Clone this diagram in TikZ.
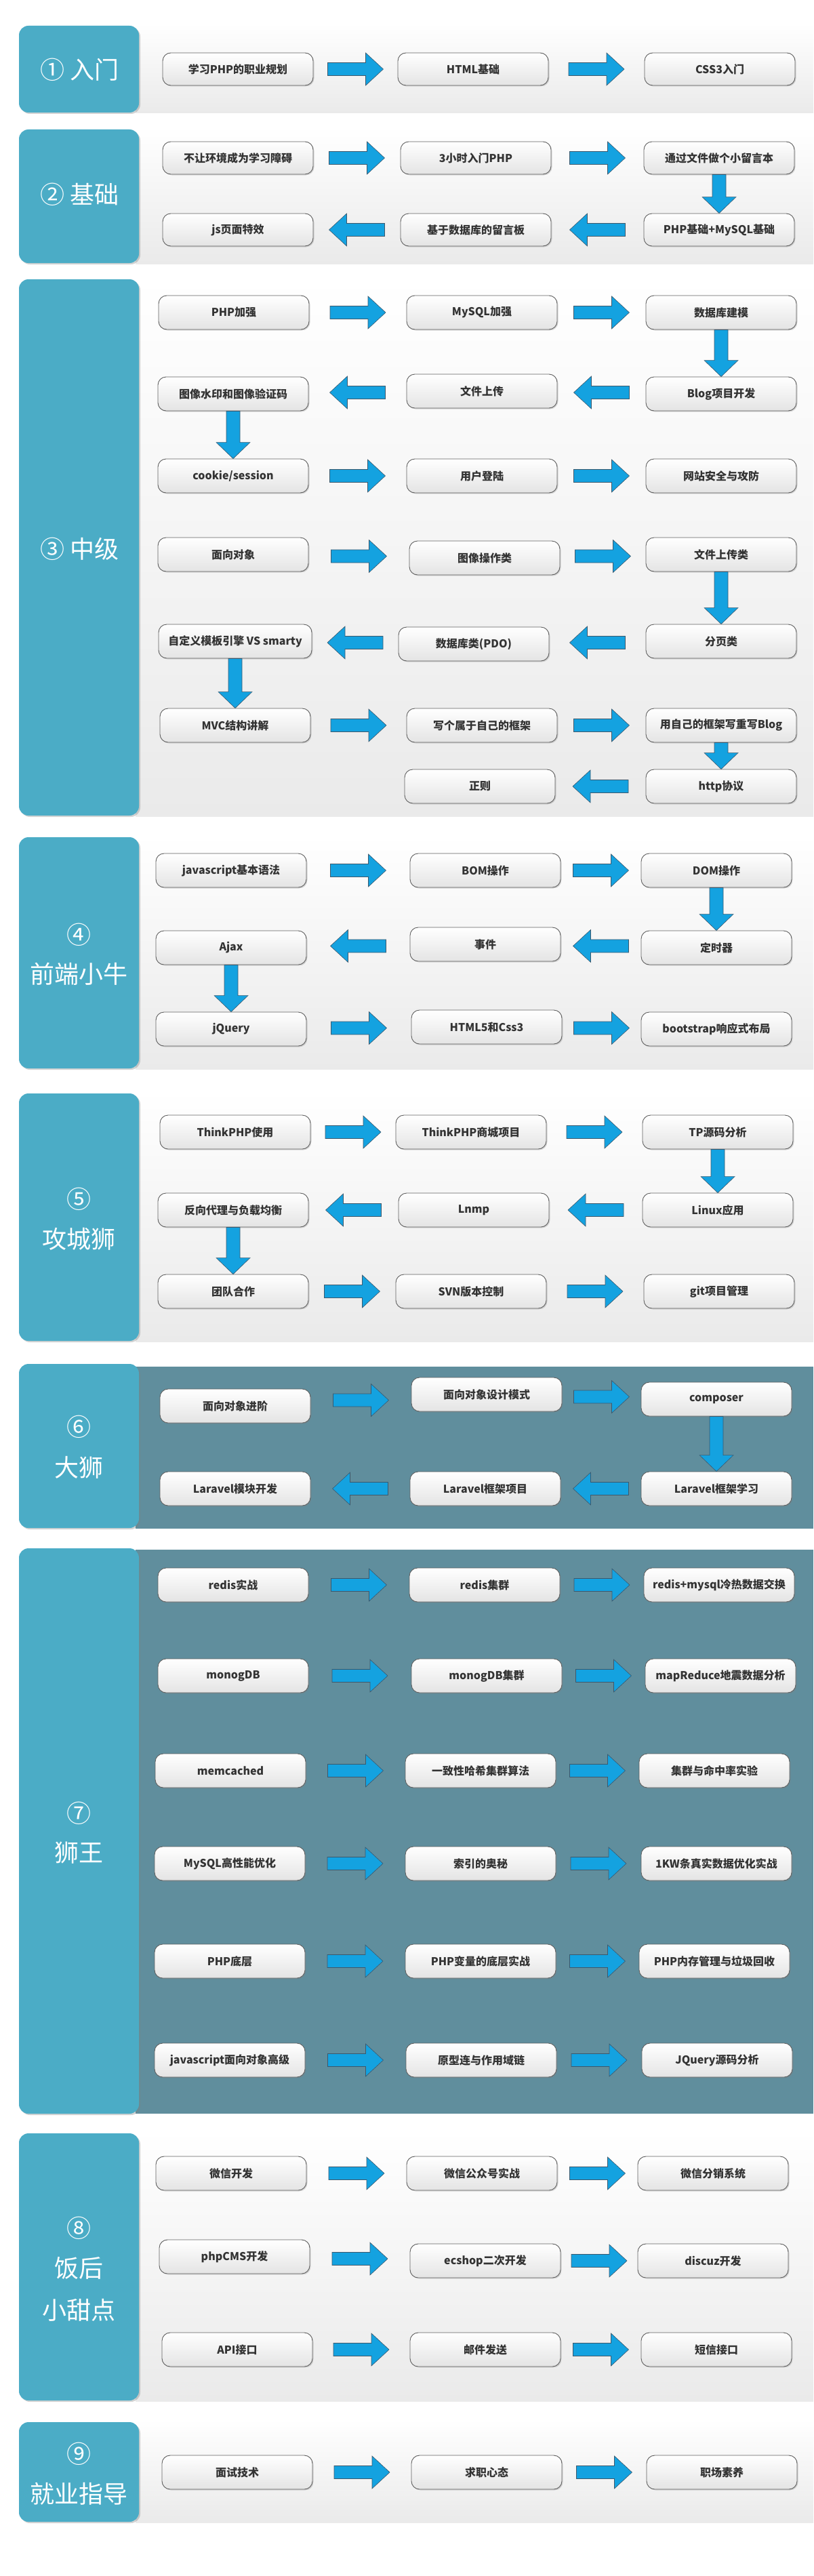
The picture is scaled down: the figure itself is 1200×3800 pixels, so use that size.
\documentclass[tikz,border=0pt]{standalone}
\usepackage{fontspec}
\setmainfont{Noto Sans CJK SC}
\usetikzlibrary{shadows,calc}
\definecolor{panelblue}{RGB}{75,172,198}
\definecolor{darkband}{RGB}{96,142,157}
\definecolor{bandgray}{RGB}{234,234,234}
\definecolor{arrowblue}{RGB}{20,162,224}
\definecolor{arrowedge}{RGB}{60,88,108}
\definecolor{boxedge}{RGB}{95,95,95}
\definecolor{boxtext}{RGB}{51,51,51}
\definecolor{boxbottom}{RGB}{228,228,228}
\tikzset{
  stepbox/.style={draw=boxedge, line width=0.9pt, rounded corners=12pt, top color=white, bottom color=boxbottom,
    minimum width=222pt, minimum height=50pt, inner sep=0pt, text=boxtext,
    font=\bfseries\fontsize{16}{18}\selectfont,
    drop shadow={opacity=0.3, shadow xshift=1.5pt, shadow yshift=-1.5pt}},
  smallbox/.style={stepbox, minimum height=48pt},
  blockarr/.style={fill=arrowblue, draw=arrowedge, line width=0.6pt, line join=miter},
  paneltitle/.style={text=white, font=\fontsize{36}{40}\selectfont, inner sep=0pt},
  bandfill/.style={top color=white, bottom color=bandgray},
  bluepanel/.style={fill=panelblue, rounded corners=14pt, drop shadow={opacity=0.35, shadow xshift=2pt, shadow yshift=-2pt}}
}
% block arrow pointing right, centred between two nodes
\newcommand\rightblock[2]{\filldraw[blockarr] let \p1=($(#1.east)!0.5!(#2.west)$) in
  (\x1-41pt,\y1+9.5pt) -- (\x1+15pt,\y1+9.5pt) -- (\x1+15pt,\y1+24pt) -- (\x1+41pt,\y1)
  -- (\x1+15pt,\y1-24pt) -- (\x1+15pt,\y1-9.5pt) -- (\x1-41pt,\y1-9.5pt) -- cycle;}
% block arrow pointing left
\newcommand\leftblock[2]{\filldraw[blockarr] let \p1=($(#1.west)!0.5!(#2.east)$) in
  (\x1+41pt,\y1+9.5pt) -- (\x1-15pt,\y1+9.5pt) -- (\x1-15pt,\y1+24pt) -- (\x1-41pt,\y1)
  -- (\x1-15pt,\y1-24pt) -- (\x1-15pt,\y1-9.5pt) -- (\x1+41pt,\y1-9.5pt) -- cycle;}
% block arrow pointing down, from one node to the next
\newcommand\downblock[2]{\filldraw[blockarr] let \p1=(#1.south), \p2=(#1.south |- #2.north) in
  (\x1-10pt,\y1) -- (\x1-10pt,\y2+24pt) -- (\x1-25pt,\y2+24pt) -- (\x1,\y2)
  -- (\x1+25pt,\y2+24pt) -- (\x1+10pt,\y2+24pt) -- (\x1+10pt,\y1) -- cycle;}
\begin{document}
\begin{tikzpicture}[x=1pt,y=-1pt]
\useasboundingbox (0,0) rectangle (1200,3800);
\fill[white] (0,0) rectangle (1200,3800);
% bands
\foreach \t/\b in {34/167, 187/389, 408/1204, 1231/1577, 1609/1979, 3143/3542, 3569/3721}{
  \fill[bandfill] (200,\t) rectangle (1200,\b);
}
\fill[darkband] (200,2016) rectangle (1200,2255);
\fill[darkband] (200,2286) rectangle (1200,3118);
% blue panels
\foreach \t/\b in {38/166, 191/388, 412/1203, 1235/1576, 1613/1978, 2012/2254, 2284/3118, 3147/3541, 3573/3720}{
  \path[bluepanel] (28,\t) rectangle (205,\b);
}
% titles
\node[paneltitle] (t1) at (118,103) {① 入门};
\node[paneltitle] (t2) at (118,287) {② 基础};
\node[paneltitle] (t3) at (118,810) {③ 中级};
\node[paneltitle] (t4a) at (116,1379) {④};
\node[paneltitle] (t4b) at (116,1437) {前端小牛};
\node[paneltitle] (t5a) at (116,1769) {⑤};
\node[paneltitle] (t5b) at (116,1828) {攻城狮};
\node[paneltitle] (t6a) at (116,2105) {⑥};
\node[paneltitle] (t6b) at (116,2165) {大狮};
\node[paneltitle] (t7a) at (116,2675) {⑦};
\node[paneltitle] (t7b) at (116,2733) {狮王};
\node[paneltitle] (t8a) at (116,3287) {⑧};
\node[paneltitle] (t8b) at (116,3346) {饭后};
\node[paneltitle] (t8c) at (116,3408) {小甜点};
\node[paneltitle] (t9a) at (116,3620) {⑨};
\node[paneltitle] (t9b) at (116,3679) {就业指导};
% panel 1
\node[smallbox] (a1) at (351,102) {学习PHP的职业规划};
\node[smallbox] (a2) at (698,102) {HTML基础};
\node[smallbox] (a3) at (1062,102) {CSS3入门};
\rightblock{a1}{a2} \rightblock{a2}{a3}
% panel 2
\node[smallbox] (b1) at (351,233) {不让环境成为学习障碍};
\node[smallbox] (b2) at (702,233) {3小时入门PHP};
\node[smallbox] (b3) at (1061,233) {通过文件做个小留言本};
\node[smallbox] (b4) at (1061,339) {PHP基础+MySQL基础};
\node[smallbox] (b5) at (702,339) {基于数据库的留言板};
\node[smallbox] (b6) at (351,339) {js页面特效};
\rightblock{b1}{b2} \rightblock{b2}{b3} \downblock{b3}{b4} \leftblock{b4}{b5} \leftblock{b5}{b6}
% panel 3
\node[stepbox] (c1) at (345,461) {PHP加强};
\node[stepbox] (c2) at (711,461) {MySQL加强};
\node[stepbox] (c3) at (1064,461) {数据库建模};
\node[stepbox] (c4) at (1064,581) {Blog项目开发};
\node[stepbox] (c5) at (711,577) {文件上传};
\node[stepbox] (c6) at (344,581) {图像水印和图像验证码};
\node[stepbox] (c7) at (344,702) {cookie/session};
\node[stepbox] (c8) at (711,702) {用户登陆};
\node[stepbox] (c9) at (1064,702) {网站安全与攻防};
\node[stepbox] (c10) at (344,818) {面向对象};
\node[stepbox] (c11) at (715,823) {图像操作类};
\node[stepbox] (c12) at (1064,818) {文件上传类};
\node[stepbox] (c13) at (1064,946) {分页类};
\node[stepbox] (c14) at (699,950) {数据库类(PDO)};
\node[stepbox, minimum width=226pt] (c15) at (347,946) {自定义模板引擎 VS smarty};
\node[stepbox] (c16) at (347,1070) {MVC结构讲解};
\node[stepbox] (c17) at (711,1070) {写个属于自己的框架};
\node[stepbox] (c18) at (1064,1070) {用自己的框架写重写Blog};
\node[stepbox] (c19) at (1064,1160) {http协议};
\node[stepbox] (c20) at (708,1160) {正则};
\rightblock{c1}{c2} \rightblock{c2}{c3} \downblock{c3}{c4} \leftblock{c4}{c5} \leftblock{c5}{c6}
\downblock{c6}{c7} \rightblock{c7}{c8} \rightblock{c8}{c9}
\rightblock{c10}{c11} \rightblock{c11}{c12} \downblock{c12}{c13} \leftblock{c13}{c14} \leftblock{c14}{c15}
\downblock{c15}{c16} \rightblock{c16}{c17} \rightblock{c17}{c18} \downblock{c18}{c19} \leftblock{c19}{c20}
% panel 4
\node[stepbox] (d1) at (341,1284) {javascript基本语法};
\node[stepbox] (d2) at (716,1284) {BOM操作};
\node[stepbox] (d3) at (1057,1284) {DOM操作};
\node[stepbox] (d4) at (1057,1398) {定时器};
\node[stepbox] (d5) at (716,1393) {事件};
\node[stepbox] (d6) at (341,1398) {Ajax};
\node[stepbox] (d7) at (341,1518) {jQuery};
\node[stepbox] (d8) at (718,1515) {HTML5和Css3};
\node[stepbox] (d9) at (1057,1518) {bootstrap响应式布局};
\rightblock{d1}{d2} \rightblock{d2}{d3} \downblock{d3}{d4} \leftblock{d4}{d5} \leftblock{d5}{d6}
\downblock{d6}{d7} \rightblock{d7}{d8} \rightblock{d8}{d9}
% panel 5
\node[stepbox] (e1) at (347,1670) {ThinkPHP使用};
\node[stepbox] (e2) at (695,1670) {ThinkPHP商城项目};
\node[stepbox] (e3) at (1059,1670) {TP源码分析};
\node[stepbox] (e4) at (1059,1785) {Linux应用};
\node[stepbox] (e5) at (699,1785) {Lnmp};
\node[stepbox] (e6) at (344,1785) {反向代理与负载均衡};
\node[stepbox] (e7) at (344,1905) {团队合作};
\node[stepbox] (e8) at (695,1905) {SVN版本控制};
\node[stepbox] (e9) at (1061,1905) {git项目管理};
\rightblock{e1}{e2} \rightblock{e2}{e3} \downblock{e3}{e4} \leftblock{e4}{e5} \leftblock{e5}{e6}
\downblock{e6}{e7} \rightblock{e7}{e8} \rightblock{e8}{e9}
% panel 6
\node[stepbox] (f1) at (347,2074) {面向对象进阶};
\node[stepbox] (f2) at (718,2057) {面向对象设计模式};
\node[stepbox] (f3) at (1057,2064) {composer};
\node[stepbox] (f4) at (1057,2196) {Laravel框架学习};
\node[stepbox] (f5) at (716,2196) {Laravel框架项目};
\node[stepbox] (f6) at (347,2196) {Laravel模块开发};
\rightblock{f1}{f2} \rightblock{f2}{f3} \downblock{f3}{f4} \leftblock{f4}{f5} \leftblock{f5}{f6}
% panel 7
\node[stepbox] (g1) at (344,2338) {redis实战};
\node[stepbox] (g2) at (715,2338) {redis集群};
\node[stepbox] (g3) at (1061,2338) {redis+mysql冷热数据交换};
\node[stepbox] (g4) at (344,2472) {monogDB};
\node[stepbox] (g5) at (718,2472) {monogDB集群};
\node[stepbox] (g6) at (1063,2472) {mapReduce地震数据分析};
\node[stepbox] (g7) at (340,2612) {memcached};
\node[stepbox] (g8) at (709,2612) {一致性哈希集群算法};
\node[stepbox] (g9) at (1054,2612) {集群与命中率实验};
\node[stepbox] (g10) at (339,2749) {MySQL高性能优化};
\node[stepbox] (g11) at (709,2749) {索引的奥秘};
\node[stepbox] (g12) at (1057,2749) {1KW条真实数据优化实战};
\node[stepbox] (g13) at (339,2893) {PHP底层};
\node[stepbox] (g14) at (709,2893) {PHP变量的底层实战};
\node[stepbox] (g15) at (1054,2893) {PHP内存管理与垃圾回收};
\node[stepbox] (g16) at (339,3039) {javascript面向对象高级};
\node[stepbox] (g17) at (710,3039) {原型连与作用域链};
\node[stepbox] (g18) at (1058,3039) {JQuery源码分析};
\rightblock{g1}{g2} \rightblock{g2}{g3}
\rightblock{g4}{g5} \rightblock{g5}{g6}
\rightblock{g7}{g8} \rightblock{g8}{g9}
\rightblock{g10}{g11} \rightblock{g11}{g12}
\rightblock{g13}{g14} \rightblock{g14}{g15}
\rightblock{g16}{g17} \rightblock{g17}{g18}
% panel 8
\node[stepbox] (h1) at (341,3206) {微信开发};
\node[stepbox] (h2) at (711,3206) {微信公众号实战};
\node[stepbox] (h3) at (1052,3206) {微信分销系统};
\node[stepbox] (h4) at (346,3329) {phpCMS开发};
\node[stepbox] (h5) at (716,3335) {ecshop二次开发};
\node[stepbox] (h6) at (1052,3335) {discuz开发};
\node[stepbox] (h7) at (350,3466) {API接口};
\node[stepbox] (h8) at (716,3466) {邮件发送};
\node[stepbox] (h9) at (1057,3466) {短信接口};
\rightblock{h1}{h2} \rightblock{h2}{h3}
\rightblock{h4}{h5} \rightblock{h5}{h6}
\rightblock{h7}{h8} \rightblock{h8}{h9}
% panel 9
\node[stepbox] (i1) at (350,3647) {面试技术};
\node[stepbox] (i2) at (718,3647) {求职心态};
\node[stepbox] (i3) at (1065,3647) {职场素养};
\rightblock{i1}{i2} \rightblock{i2}{i3}
\end{tikzpicture}
\end{document}
